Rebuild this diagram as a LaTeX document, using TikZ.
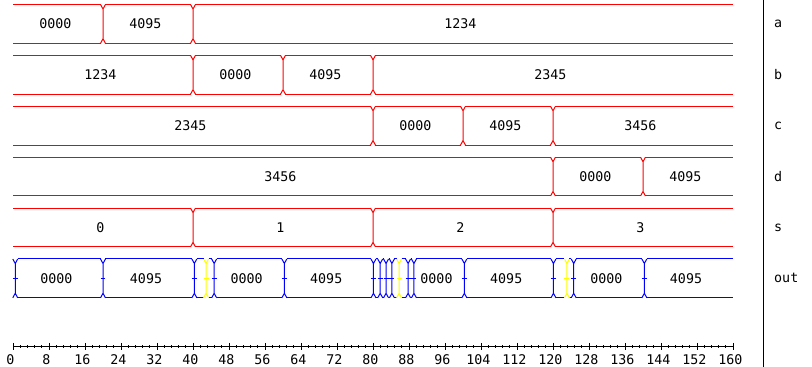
\documentclass[tikz,border=0pt]{standalone}
\usepackage{fontspec}
\setmonofont{DejaVu Sans Mono}
\usetikzlibrary{positioning}

\definecolor{sigred}{RGB}{255,0,0}
\definecolor{busblue}{RGB}{0,0,255}
\definecolor{glitch}{RGB}{255,255,0}

\def\padw{0.55}
\def\padh{4.5}
\def\rowh{38.8}

\newcommand\busseg[4]{%
  \pgfmathsetmacro\segleft{#3==0 ? #3 : #3+\padw}%
  \pgfmathsetmacro\segright{#4==160 ? #4 : #4-\padw}%
  \draw[sig,#1] (\segleft,#2) -- (\segright,#2) (\segleft,#2+\rowh) -- (\segright,#2+\rowh);}
\newcommand\buscross[3]{%
  \draw[sig,#1] (#3-\padw,#2) -- (#3,#2+\padh) -- (#3+\padw,#2)
    (#3,#2+\padh) -- (#3,#2+\rowh-\padh)
    (#3-\padw,#2+\rowh) -- (#3,#2+\rowh-\padh) -- (#3+\padw,#2+\rowh);}

\tikzset{
  sig/.style={line width=0.75pt},
  val/.style={font=\ttfamily\fontsize{10}{11}\selectfont, inner sep=0pt, xshift=-2pt},
  rowname/.style={font=\ttfamily\fontsize{10}{11}\selectfont, inner sep=0pt, anchor=west},
}

\begin{document}
\begin{tikzpicture}[x=3.375pt,y=-0.75pt]
\useasboundingbox (-2.889,0) rectangle (177.556,367);

\foreach \s/\e/\v [count=\i] in {0/20/0000,20/40/4095,40/160/1234}{
  \busseg{sigred}{4.5}{\s}{\e}
  \node[val] (a\i) at ({(\s+\e)/2},23.9) {\v};}
\foreach \t in {20,40} {\buscross{sigred}{4.5}{\t}}

\foreach \s/\e/\v [count=\i] in {0/40/1234,40/60/0000,60/80/4095,80/160/2345}{
  \busseg{sigred}{55.4}{\s}{\e}
  \node[val] (b\i) at ({(\s+\e)/2},74.8) {\v};}
\foreach \t in {40,60,80} {\buscross{sigred}{55.4}{\t}}

\foreach \s/\e/\v [count=\i] in {0/80/2345,80/100/0000,100/120/4095,120/160/3456}{
  \busseg{sigred}{106.3}{\s}{\e}
  \node[val] (c\i) at ({(\s+\e)/2},125.7) {\v};}
\foreach \t in {80,100,120} {\buscross{sigred}{106.3}{\t}}

\foreach \s/\e/\v [count=\i] in {0/120/3456,120/140/0000,140/160/4095}{
  \busseg{sigred}{157.2}{\s}{\e}
  \node[val] (d\i) at ({(\s+\e)/2},176.6) {\v};}
\foreach \t in {120,140} {\buscross{sigred}{157.2}{\t}}

\foreach \s/\e/\v [count=\i] in {0/40/0,40/80/1,80/120/2,120/160/3}{
  \busseg{sigred}{208.1}{\s}{\e}
  \node[val] (s\i) at ({(\s+\e)/2},227.5) {\v};}
\foreach \t in {40,80,120} {\buscross{sigred}{208.1}{\t}}

\foreach \s/\e in {0.5/20,20/40.3,40.3/42.9,42.9/44.7,44.7/60.3,60.3/80.1,80.1/81.6,81.6/82.9,82.9/84.2,84.2/85.8,85.8/87.8,87.8/89.1,89.1/100.3,100.3/120.1,120.1/123.1,123.1/124.6,124.6/140.3,140.3/160}
  {\busseg{busblue}{259}{\s}{\e}}
\foreach \t/\c in {0.5/busblue,20/busblue,40.3/busblue,42.9/glitch,44.7/busblue,60.3/busblue,80.1/busblue,81.6/busblue,82.9/busblue,84.2/busblue,85.8/glitch,87.8/busblue,89.1/busblue,100.3/busblue,120.1/busblue,123.1/glitch,124.6/busblue,140.3/busblue}{
  \buscross{\c}{259}{\t}
  \draw[sig,\c] (\t-\padw,278.4) -- (\t+\padw,278.4);}
\foreach \s/\e/\v [count=\i] in {0.5/20/0000,20/40.3/4095,44.7/60.3/0000,60.3/80.1/4095,89.1/100.3/0000,100.3/120.1/4095,124.6/140.3/0000,140.3/160/4095}
  {\node[val] (out\i) at ({(\s+\e)/2},278.4) {\v};}

\draw[sig] (0,347) -- (160,347);
\foreach \k in {0,...,100}{
  \pgfmathsetmacro\tickx{1.6*\k}
  \ifnum\numexpr\k-5*(\k/5)\relax=0
    \draw[sig] (\tickx,343) -- (\tickx,350);
  \else
    \draw[sig] (\tickx,345.5) -- (\tickx,348.5);
  \fi}
\foreach \n in {0,8,...,160}
  {\node[val] (tick\n) at (\n,359.7) {\n};}

\draw[sig] (166.7,0) -- (166.7,367);
\foreach \r/\y in {a/23.9,b/74.8,c/125.7,d/176.6,s/227.5,out/278.4}
  {\node[rowname] (name\r) at (169.1,\y) {\r};}

\end{tikzpicture}
\end{document}
